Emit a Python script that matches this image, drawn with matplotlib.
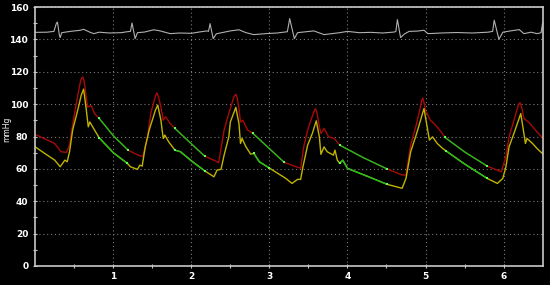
import numpy as np
import matplotlib
matplotlib.use('Agg')
import matplotlib.pyplot as plt

# arterial pressure, upper trace (red)
red_t = [0.00, 0.25, 0.33, 0.40, 0.44, 0.50, 0.57, 0.59, 0.61, 0.625, 0.64, 0.67, 0.72, 0.76, 0.82, 1.00, 1.19, 1.27,
         1.35, 1.38, 1.44, 1.48, 1.52, 1.545, 1.56, 1.58, 1.61, 1.64, 1.67, 1.73, 1.79, 2.00, 2.17, 2.33, 2.35,
         2.42, 2.48, 2.545, 2.57, 2.59, 2.61, 2.63, 2.66, 2.72, 2.79, 3.00, 3.19, 3.40, 3.44, 3.49, 3.54, 3.575, 3.59,
         3.61, 3.64, 3.66, 3.70, 3.76, 3.83, 3.90, 4.20, 4.51, 4.70, 4.75, 4.81, 4.88, 4.93, 4.95, 4.965, 4.98, 5.00,
         5.06, 5.11, 5.20, 5.25, 5.50, 5.79, 5.97, 6.03, 6.07, 6.14, 6.19, 6.21, 6.23, 6.26, 6.33, 6.39, 6.51]
red_v = [81.3, 75.7, 70.6, 70.2, 74.7, 93.2, 111.7, 115.6, 116.9, 114.5, 109.7, 98.3, 99.0, 94.2, 91.2, 80.5, 71.6, 69.6,
         67.9, 67.9, 79.8, 94.2, 101.4, 105.6, 107.0, 104.5, 98.3, 90.1, 92.2, 88.0, 85.0, 75.5, 67.9, 64.4, 63.8,
         84.0, 94.2, 104.6, 106.2, 103.5, 97.3, 89.0, 90.1, 84.0, 81.9, 72.5, 64.0, 60.3, 73.6, 84.0, 91.2, 96.0, 97.3,
         94.5, 86.1, 81.9, 85.0, 79.8, 78.8, 74.7, 67.0, 59.9, 56.2, 56.2, 74.7, 87.0, 97.3, 102.3, 103.9, 101.0, 96.3,
         90.1, 88.0, 82.9, 79.4, 70.5, 61.7, 58.2, 67.5, 79.8, 91.2, 99.5, 101.0, 98.5, 91.2, 88.5, 85.0, 78.4]

# arterial pressure, lower trace (yellow)
yel_t = [0.00, 0.12, 0.25, 0.32, 0.38, 0.41, 0.44, 0.48, 0.55, 0.59, 0.62, 0.65, 0.68, 0.70, 0.76, 0.82,
         1.00, 1.18, 1.22, 1.31, 1.34, 1.37, 1.41, 1.46, 1.50, 1.54, 1.57, 1.61, 1.64, 1.66, 1.71,
         1.79, 1.86, 2.00, 2.17, 2.29, 2.33, 2.38, 2.42, 2.48, 2.50, 2.57, 2.61, 2.63, 2.65, 2.70,
         2.76, 2.80, 2.87, 3.00, 3.21, 3.29, 3.36, 3.40, 3.43, 3.49, 3.55, 3.60, 3.64, 3.66, 3.70,
         3.74, 3.82, 3.84, 3.87, 3.90, 3.94, 4.00, 4.25, 4.51, 4.70, 4.75, 4.81, 4.88, 4.93, 4.98,
         5.01, 5.05, 5.09, 5.15, 5.22, 5.26, 5.50, 5.79, 5.92, 5.99, 6.03, 6.07, 6.14, 6.22, 6.26,
         6.28, 6.30, 6.37, 6.44, 6.51]
yel_v = [73.6, 69.6, 65.4, 61.3, 65.4, 64.4, 70.6, 84.0, 97.3, 105.6, 109.3, 98.3, 86.0, 89.0, 84.0, 79.2,
         70.0, 63.4, 61.3, 59.7, 62.3, 61.7, 73.6, 84.0, 90.1, 96.3, 99.4, 90.1, 78.8, 80.9, 76.7,
         71.6, 70.6, 65.0, 58.8, 55.1, 59.3, 59.7, 68.5, 79.8, 89.0, 98.0, 88.0, 75.7, 78.8, 73.6,
         69.1, 69.6, 64.4, 60.5, 54.1, 51.0, 53.5, 53.5, 61.3, 74.7, 81.9, 89.7, 79.8, 69.0, 73.6,
         70.6, 68.5, 71.6, 65.4, 63.4, 65.4, 60.3, 55.5, 50.4, 48.0, 54.1, 70.6, 80.9, 89.0, 97.3,
         89.0, 77.8, 79.8, 75.7, 72.6, 71.2, 63.0, 54.1, 51.0, 54.1, 61.3, 73.6, 82.9, 94.2, 81.9,
         75.7, 78.8, 75.7, 72.0, 69.0]

# highlighted diastolic runs (green)
green_runs = [(0.82, 1.19), (1.79, 2.17), (2.79, 3.20), (3.90, 4.51), (5.25, 5.79)]

# ECG trace at the top
ecg_t = [0.00, 0.15, 0.24, 0.27, 0.285, 0.31, 0.32, 0.34, 0.45, 0.58, 0.62, 0.70, 0.75, 0.82, 0.95, 1.10,
         1.18, 1.22, 1.24, 1.28, 1.31, 1.40, 1.52, 1.60, 1.73, 1.85, 2.00, 2.10, 2.20, 2.22, 2.24,
         2.28, 2.32, 2.42, 2.50, 2.61, 2.70, 2.80, 2.95, 3.10, 3.23, 3.26, 3.32, 3.36, 3.57, 3.70,
         3.80, 3.90, 4.00, 4.15, 4.30, 4.45, 4.60, 4.62, 4.64, 4.68, 4.73, 4.79, 4.90, 4.98, 5.03,
         5.20, 5.40, 5.60, 5.80, 5.86, 5.88, 5.94, 5.99, 6.09, 6.20, 6.26, 6.35, 6.43, 6.48, 6.50]
ecg_v = [144.4, 144.5, 145.0, 149.8, 150.8, 142.6, 141.2, 144.2, 145.0, 145.7, 146.3, 144.5, 143.6, 144.5, 144.0, 144.2,
         144.8, 145.0, 150.2, 140.5, 144.2, 144.6, 146.0, 145.3, 143.6, 144.0, 143.8, 144.6, 145.3, 145.0, 149.8,
         140.5, 143.5, 144.5, 145.3, 146.0, 144.2, 143.0, 143.6, 144.0, 144.8, 152.9, 140.5, 144.2, 145.3, 143.0,
         143.6, 144.2, 145.0, 144.2, 144.4, 144.0, 144.6, 145.0, 152.3, 141.2, 143.4, 145.0, 145.2, 145.7, 143.6,
         144.0, 144.3, 144.0, 144.5, 145.0, 151.9, 140.1, 144.5, 145.3, 146.1, 143.6, 144.5, 143.6, 144.2, 150.2]

x_ticks = [1, 2, 3, 4, 5, 6]
y_ticks = [0, 20, 40, 60, 80, 100, 120, 140, 160]

red_c = '#a80a0a'
yel_c = '#c0b400'
grn_c = '#1cc01c'
fg = '#c8c8c8'

fig = plt.figure(figsize=(5.5, 2.85), dpi=100, facecolor='black')
ax = fig.add_axes([0.064, 0.067, 0.924, 0.908], facecolor='black')

ax.plot(ecg_t, ecg_v, color='#b0b0b0', lw=0.8)


def draw_trace(t, v, col):
    t = np.array(t)
    v = np.array(v)
    ax.plot(t, v, color=col, lw=1.0)
    for a, b in green_runs:
        m = (t >= a - 1e-9) & (t <= b + 1e-9)
        ax.plot(t[m], v[m], color=grn_c, lw=1.0)
        ax.plot(t[m][[0, -1]], v[m][[0, -1]], 's', color='#5cff5c', ms=1.5, mew=0)


draw_trace(red_t, red_v, red_c)
draw_trace(yel_t, yel_v, yel_c)

ax.set_xlim(0, 6.51)
ax.set_ylim(0, 160)
ax.set_xticks(x_ticks)
ax.set_xticks(np.arange(0.5, 6.5, 1.0), minor=True)
ax.set_yticks(y_ticks)
ax.set_yticks(np.arange(10, 160, 20), minor=True)
ax.grid(True, which='major', color='#7a7a7a', ls=(0, (1, 2.5)), lw=0.8)

for s in ax.spines.values():
    s.set_color(fg)
    s.set_linewidth(1.2)

ax.tick_params(which='both', colors=fg, direction='inout', length=3, width=0.8,
               labelcolor='white', labelsize=6.5)
ax.tick_params(axis='x', pad=3)
for lab in ax.get_xticklabels() + ax.get_yticklabels():
    lab.set_fontweight('bold')

fig.text(0.012, 0.545, 'mmHg', color='white', fontsize=5.5, rotation=90, ha='center', va='center')

fig.savefig('out.png', dpi=100, facecolor='black')
